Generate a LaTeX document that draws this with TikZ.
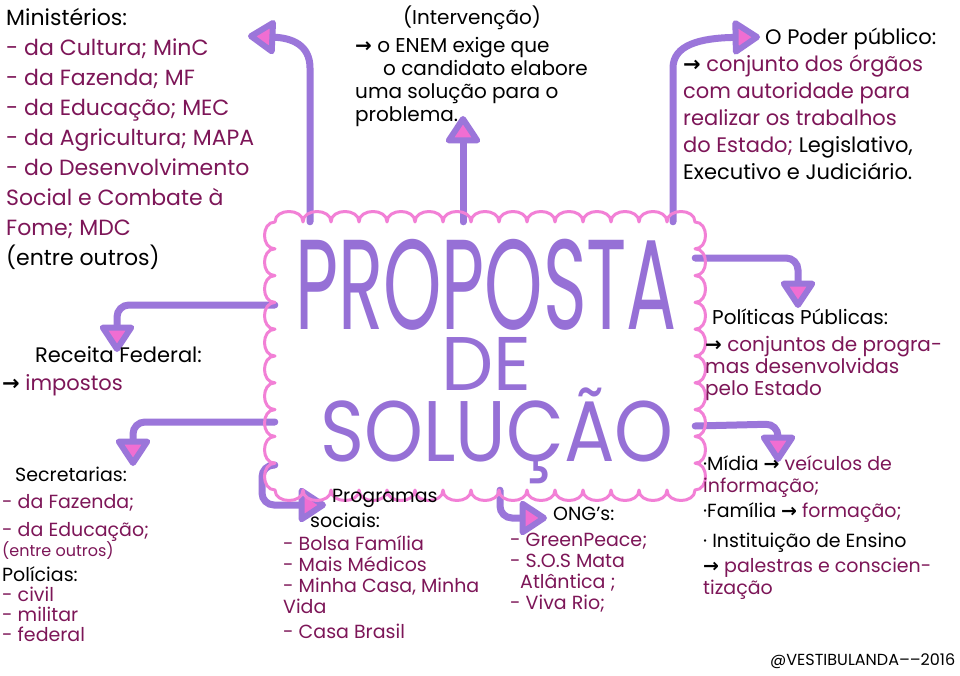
\documentclass[tikz,border=0pt]{standalone}
\usepackage{fontspec}
\usepackage{graphicx}
\setmainfont{Poppins}
\newfontfamily\arrowfont{DejaVu Sans}
\usetikzlibrary{arrows.meta}
\definecolor{lilac}{RGB}{155,118,218}
\definecolor{tippink}{RGB}{240,110,210}
\definecolor{cloudpink}{RGB}{242,128,214}
\definecolor{ink}{RGB}{125,22,88}
\definecolor{titlepurple}{RGB}{150,112,214}
\newcommand{\arr}{{\arrowfont\bfseries →}}
\tikzset{
  link/.style={draw=lilac,line width=7pt,line cap=round,rounded corners=12pt,
    -{Triangle[length=30pt,width=38pt,line width=6pt,fill=tippink,round]}},
  cloudline/.style={draw=cloudpink,line width=3pt,line join=round},
  titletext/.style={text=titlepurple,inner sep=0pt,align=center,font=\fontsize{1}{1}\selectfont},
  txt/.style={inner sep=0pt,anchor=north west,align=left,text=ink},
}
\begin{document}
\begin{tikzpicture}[x=1pt,y=-1pt]
\fill[white] (0,0) rectangle (960,676);
\useasboundingbox (0,0) rectangle (960,676);
\node (cloud) at (485,356) [minimum width=420pt,minimum height=268pt,inner sep=0pt] {};
% arrow ends
\coordinate (minTip) at (248,36);
\coordinate (intTip) at (463,116);
\coordinate (podTip) at (760,37);
\coordinate (polTip) at (798,308);
\coordinate (midTip) at (778,462);
\coordinate (recTip) at (117,352);
\coordinate (secTip) at (133,466);
\coordinate (prgTip) at (326,505);
\coordinate (ongTip) at (547,518);
\draw[link] ([xshift=-175pt]cloud.north) -- (310,80) .. controls (310,45) and (292,38) .. (minTip);
\draw[link] ([xshift=-22pt]cloud.north) -- (intTip);
\draw[link] ([xshift=188pt]cloud.north) -- (673,80) .. controls (673,45) and (700,38) .. (podTip);
\draw[link] ([yshift=98pt]cloud.east) -- (798,258) -- (polTip);
\draw[link] ([yshift=-70pt]cloud.east) -- (778,424) -- (midTip);
\draw[link] ([yshift=51pt]cloud.west) -- (117,305) -- (recTip);
\draw[link] ([yshift=-66pt]cloud.west) -- (133,422) -- (secTip);
\draw[link] ([yshift=-109pt]cloud.west) -- (262,465) -- (262,505) -- (prgTip);
\draw[link] ([xshift=15pt]cloud.south) -- (500,518) -- (ongTip);
% scalloped border of the cloud
\draw[cloudline] (275,222)
  foreach \i in {0,...,14} { .. controls (275+28*\i,208) and (303+28*\i,208) .. (303+28*\i,222) }
  foreach \i in {0,...,9} { .. controls (709,222+26.8*\i) and (709,248.8+26.8*\i) .. (695,248.8+26.8*\i) }
  foreach \i in {0,...,14} { .. controls (695-28*\i,504) and (667-28*\i,504) .. (667-28*\i,490) }
  foreach \i in {0,...,9} { .. controls (261,490-26.8*\i) and (261,463.2-26.8*\i) .. (275,463.2-26.8*\i) }
  -- cycle;
% title
\node (prop) at (486,239) [titletext,anchor=north] {%
\resizebox{382pt}{\height}{\fontsize{128}{128}\selectfont PROPOSTA}\\[6pt]
\resizebox{90pt}{\height}{\fontsize{76}{76}\selectfont DE}\\[-4pt]
\hspace*{22pt}\resizebox{353pt}{\height}{\fontsize{86}{86}\selectfont SOLUÇÃO}};
% text blocks
\node (minist) at (6,8) [txt,font=\fontsize{22}{30}\selectfont] {{\color{black}Ministérios:}\\
- da Cultura; MinC\\
- da Fazenda; MF\\
- da Educação; MEC\\
- da Agricultura; MAPA\\
- do Desenvolvimento\\
Social e Combate à\\
Fome; MDC\\
{\color{black}(entre outros)}};
\node (interv) at (472,25) [anchor=base,inner sep=0pt,font=\fontsize{20}{23}\selectfont] {(Intervenção)};
\node (enem) at (355,37) [txt,text=black,font=\fontsize{20}{23}\selectfont] {\arr\ o ENEM exige que\\
\hspace*{28pt}o candidato elabore\\
uma solução para o\\
problema.};
\node (poder) at (683,28) [txt,font=\fontsize{21}{27}\selectfont] {\hspace*{82pt}{\color{black}O Poder público:}\\
{\color{black}\arr} conjunto dos órgãos\\
com autoridade para\\
realizar os trabalhos\\
do Estado; {\color{black}Legislativo,}\\
{\color{black}Executivo e Judiciário.}};
\node (receita) at (2,346) [txt,font=\fontsize{21}{28}\selectfont] {\hspace*{33pt}{\color{black}Receita Federal:}\\
{\color{black}\arr} impostos};
\node (secret) at (2,467) [txt,font=\fontsize{19}{20}\selectfont] {\hspace*{13pt}{\color{black}Secretarias:}\\[7pt]
- da Fazenda;\\[8pt]
- da Educação;\\
{\fontsize{16}{18}\selectfont (entre outros)}\\[5pt]
{\color{black}Polícias:}\\
- civil\\
- militar\\
- federal};
\node (progr) at (283,489) [txt,font=\fontsize{19}{21}\selectfont] {\hspace*{49pt}{\color{black}Programas}\\[4pt]
\hspace*{27pt}{\color{black}sociais:}\\[2pt]
- Bolsa Família\\
- Mais Médicos\\
- Minha Casa, Minha\\
Vida\\[4pt]
- Casa Brasil};
\node (ong) at (510,507) [txt,font=\fontsize{19}{21}\selectfont] {\hspace*{43pt}{\color{black}ONG's:}\\[5pt]
- GreenPeace;\\
- S.O.S Mata\\
\hspace*{10pt}Atlântica ;\\
- Viva Rio;};
\node (polit) at (705,309) [txt,font=\fontsize{20}{22}\selectfont] {\hspace*{7pt}{\color{black}Políticas Públicas:}\\[5pt]
{\color{black}\arr} conjuntos de progra-\\
mas desenvolvidas\\
pelo Estado};
\node (midia) at (703,455) [txt,font=\fontsize{19}{22}\selectfont] {{\color{black}·Mídia \arr} veículos de\\
informação;\\[3pt]
{\color{black}·Família \arr} formação;\\[8pt]
{\color{black}· Instituição de Ensino}\\[3pt]
{\color{black}\arr} palestras e conscien-\\
tização};
\node (assin) at (770,665) [anchor=base west,inner sep=0pt,font=\fontsize{16}{18}\selectfont] {@VESTIBULANDA––2016};
\end{tikzpicture}
\end{document}
